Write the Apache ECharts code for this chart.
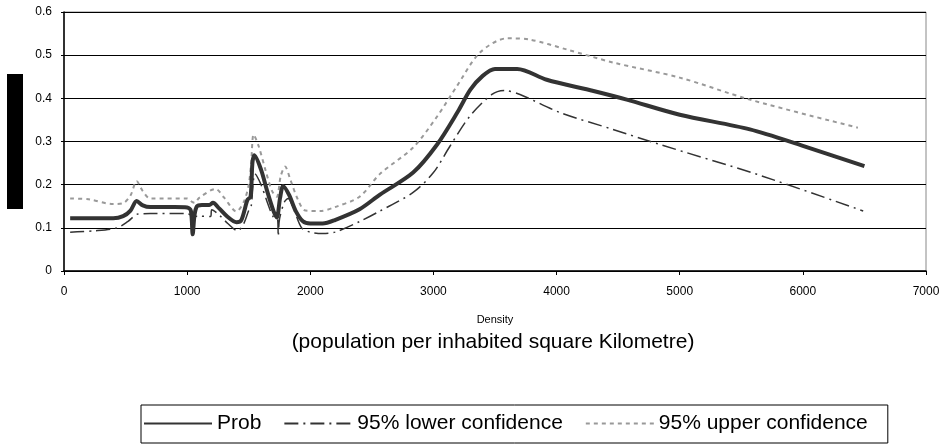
<!DOCTYPE html>
<html><head><meta charset="utf-8">
<script src="https://cdn.jsdelivr.net/npm/echarts@6/dist/echarts.min.js"></script>
<style>html,body{margin:0;padding:0;background:#fff}#c{width:943px;height:447px}</style>
</head><body><div id="c"></div>
<script>
const xTicks = [0,1000,2000,3000,4000,5000,6000,7000];
const yTicks = [0,0.1,0.2,0.3,0.4,0.5,0.6];
const seriesNames = ['Prob','95% lower confidence','95% upper confidence'];
const probData = [[50,0.122],[200,0.122],[400,0.122],[480,0.127],[540,0.14],[590,0.162],[640,0.152],[700,0.148],[900,0.148],[1000,0.147],[1030,0.14],[1045,0.085],[1060,0.13],[1080,0.15],[1120,0.153],[1180,0.153],[1210,0.158],[1260,0.145],[1330,0.125],[1400,0.113],[1440,0.118],[1490,0.165],[1515,0.172],[1530,0.25],[1545,0.268],[1600,0.235],[1650,0.185],[1700,0.14],[1728,0.124],[1755,0.17],[1780,0.197],[1830,0.175],[1880,0.14],[1940,0.115],[2000,0.11],[2100,0.11],[2200,0.118],[2400,0.143],[2566,0.177],[2835,0.228],[3030,0.293],[3200,0.37],[3300,0.42],[3400,0.452],[3500,0.468],[3680,0.468],[3920,0.443],[4300,0.417],[4570,0.397],[5000,0.362],[5570,0.328],[6000,0.29],[6500,0.243]];
const lowerData = [[50,0.09],[250,0.093],[430,0.1],[520,0.115],[600,0.132],[700,0.133],[1000,0.133],[1040,0.125],[1048,0.08],[1056,0.125],[1100,0.127],[1190,0.126],[1200,0.142],[1260,0.13],[1330,0.11],[1410,0.093],[1460,0.11],[1500,0.14],[1520,0.15],[1535,0.2],[1550,0.225],[1600,0.2],[1650,0.16],[1700,0.125],[1735,0.12],[1740,0.08],[1750,0.12],[1790,0.16],[1820,0.168],[1870,0.14],[1930,0.1],[2000,0.09],[2100,0.087],[2200,0.09],[2404,0.115],[2566,0.139],[2835,0.182],[3000,0.228],[3134,0.289],[3297,0.359],[3475,0.409],[3580,0.418],[3703,0.409],[4028,0.367],[4458,0.328],[4840,0.293],[5627,0.224],[6490,0.139]];
const upperData = [[50,0.168],[200,0.166],[400,0.155],[480,0.157],[540,0.175],[590,0.208],[640,0.185],[700,0.168],[1000,0.168],[1040,0.16],[1060,0.158],[1100,0.17],[1230,0.19],[1300,0.17],[1400,0.138],[1460,0.16],[1500,0.2],[1520,0.25],[1540,0.316],[1580,0.29],[1640,0.23],[1690,0.185],[1728,0.172],[1760,0.22],[1795,0.242],[1840,0.21],[1900,0.165],[1960,0.14],[2080,0.139],[2200,0.148],[2400,0.172],[2566,0.225],[2835,0.286],[3030,0.358],[3190,0.428],[3378,0.506],[3597,0.539],[3784,0.536],[4085,0.513],[4458,0.483],[5000,0.448],[5570,0.397],[6447,0.332]];

const FONT = '"Liberation Sans", Arial, sans-serif';
const chart = echarts.init(document.getElementById('c'), null, {renderer:'canvas'});
chart.setOption({
  animation:false,
  backgroundColor:'#fff',
  textStyle:{fontFamily:FONT},
  grid:{left:64,right:17,top:12,bottom:176,show:true,borderColor:'#888',borderWidth:1,backgroundColor:'transparent'},
  xAxis:{type:'value',min:xTicks[0],max:xTicks[xTicks.length-1],interval:1000,
    axisLine:{lineStyle:{color:'#000',width:1.5}},
    axisTick:{show:true,length:4,lineStyle:{color:'#000'}},
    axisLabel:{color:'#000',fontSize:12,fontFamily:FONT,margin:15,formatter:v=>String(v)},
    splitLine:{show:false}},
  yAxis:{type:'value',min:yTicks[0],max:yTicks[yTicks.length-1],interval:0.1,
    axisLine:{show:true,lineStyle:{color:'#000',width:1.5}},
    axisTick:{show:true,length:3,lineStyle:{color:'#000'}},
    axisLabel:{color:'#000',fontSize:12,fontFamily:FONT,margin:12,formatter:v=>String(Math.round(v*10)/10)},
    splitLine:{show:true,lineStyle:{color:'#000',width:1}}},
  legend:{left:141,top:405,itemWidth:68,itemHeight:12,itemGap:22,
    padding:[8,20,9,2],borderColor:'#000',borderWidth:1,
    itemStyle:{opacity:0},
    textStyle:{color:'#000',fontSize:21,fontFamily:FONT},
    data:seriesNames},
  graphic:[
    {type:'rect',left:7,top:74,shape:{width:16,height:135},style:{fill:'#000'}},
    {type:'text',x:495,y:320,style:{text:'Density',fill:'#000',font:'11px "Liberation Sans", Arial, sans-serif',align:'center',verticalAlign:'middle'}},
    {type:'text',x:493,y:342,style:{text:'(population per inhabited square Kilometre)',fill:'#000',font:'21px "Liberation Sans", Arial, sans-serif',align:'center',verticalAlign:'middle'}}
  ],
  series:[
    {name:seriesNames[0],type:'line',data:probData,symbol:'none',smooth:0.3,z:5,
      lineStyle:{color:'#333',width:4}, itemStyle:{color:'#333'}},
    {name:seriesNames[1],type:'line',data:lowerData,symbol:'none',smooth:0.3,z:4,
      lineStyle:{color:'#333',width:1.5,type:[14,5,2,5]}, itemStyle:{color:'#333'}},
    {name:seriesNames[2],type:'line',data:upperData,symbol:'none',smooth:0.3,z:3,
      lineStyle:{color:'#999',width:2,type:[4,4]}, itemStyle:{color:'#999'}}
  ]
});
</script></body></html>
